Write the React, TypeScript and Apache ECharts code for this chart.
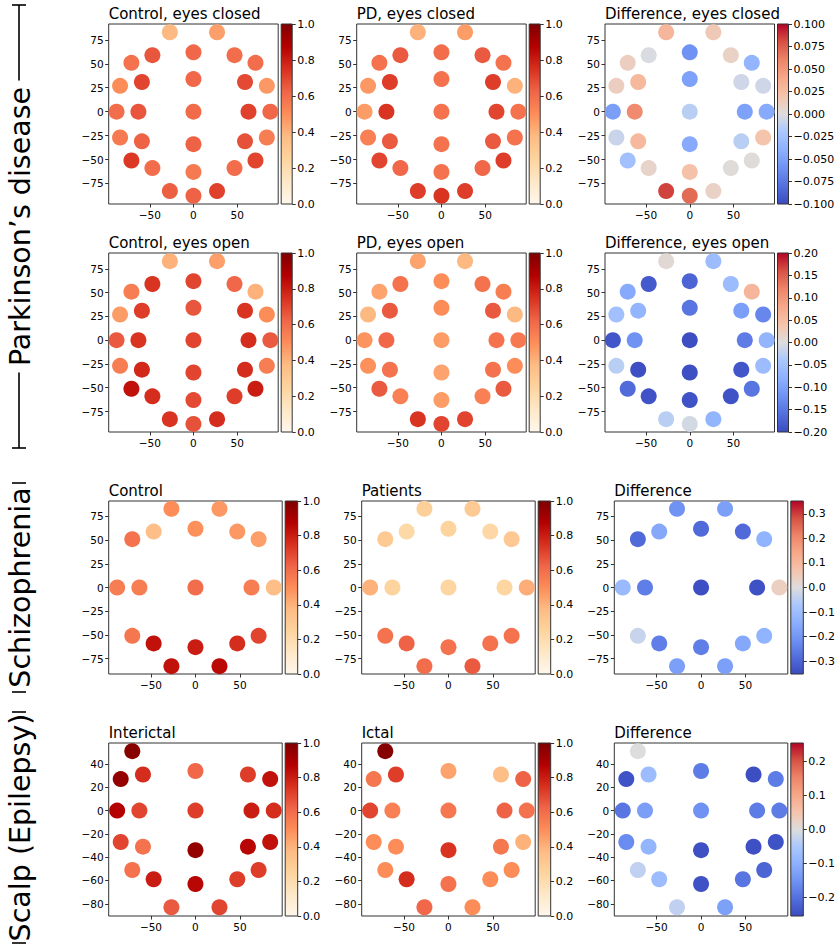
import React, { useEffect, useRef } from 'react';
import * as echarts from 'echarts';

const FONT = '"DejaVu Sans", "Liberation Sans", sans-serif';

// ---------- electrode coordinates ----------
// 30-channel set (Parkinson's disease)
const pdElectrodeX = [-27, 27, -71, -47, 0, 47, 71, -84, -59, 0, 59, 84, -88, -63, 0, 63, 88, -84, -59, 0, 59, 84, -71, -47, 0, 47, 71, -27, 0, 27];
const pdElectrodeY = [83, 83, 51, 59, 62, 59, 51, 27, 31, 34, 31, 27, 0, 0, 0, 0, 0, -27, -31, -34, -31, -27, -51, -59, -63, -59, -51, -83, -88, -83];
// 19-channel set (Schizophrenia)
const szElectrodeX = [-27, 27, -71, -47, 0, 47, 71, -88, -63, 0, 63, 88, -71, -47, 0, 47, 71, -27, 27];
const szElectrodeY = [83, 83, 51, 59, 62, 59, 51, 0, 0, 0, 0, 0, -51, -59, -63, -59, -51, -83, -83];
// 23-channel set (Scalp epilepsy)
const epElectrodeX = [-71, -84, -59, 0, 59, 84, -88, -63, 0, 63, 88, -84, -59, 0, 59, 84, -71, -47, 0, 47, 71, -27, 27];
const epElectrodeY = [51, 27, 31, 34, 31, 27, 0, 0, 0, 0, 0, -27, -31, -34, -31, -27, -51, -59, -63, -59, -51, -83, -83];

// ---------- values ----------
const pdControlClosed = [0.38, 0.45, 0.58, 0.66, 0.62, 0.6, 0.6, 0.5, 0.7, 0.62, 0.69, 0.47, 0.6, 0.66, 0.61, 0.71, 0.62, 0.56, 0.63, 0.63, 0.67, 0.55, 0.73, 0.6, 0.56, 0.6, 0.7, 0.64, 0.63, 0.71];
const pdPatientClosed = [0.4, 0.46, 0.58, 0.65, 0.6, 0.65, 0.58, 0.47, 0.72, 0.58, 0.72, 0.4, 0.46, 0.74, 0.58, 0.7, 0.58, 0.54, 0.65, 0.58, 0.65, 0.58, 0.7, 0.62, 0.58, 0.62, 0.72, 0.72, 0.74, 0.72];
const pdDiffClosed = [0.03, 0.016, 0.012, -0.002, -0.06, 0.01, -0.036, 0.012, 0.028, -0.05, -0.006, -0.006, -0.052, 0.056, -0.014, -0.05, -0.044, -0.008, 0.028, -0.044, -0.014, 0.02, -0.026, 0.008, 0.022, 0.002, 0.002, 0.084, 0.07, 0.01];
const pdControlOpen = [0.4, 0.45, 0.55, 0.74, 0.7, 0.62, 0.4, 0.46, 0.72, 0.66, 0.74, 0.5, 0.65, 0.74, 0.7, 0.76, 0.65, 0.55, 0.77, 0.7, 0.76, 0.55, 0.83, 0.76, 0.69, 0.72, 0.8, 0.74, 0.67, 0.76];
const pdPatientOpen = [0.44, 0.38, 0.44, 0.58, 0.5, 0.58, 0.55, 0.38, 0.65, 0.5, 0.65, 0.38, 0.48, 0.62, 0.46, 0.58, 0.56, 0.49, 0.58, 0.44, 0.58, 0.5, 0.65, 0.54, 0.46, 0.54, 0.65, 0.74, 0.7, 0.7];
const pdDiffOpen = [0.008, -0.06, -0.088, -0.184, -0.172, -0.06, 0.06, -0.052, -0.072, -0.152, -0.104, -0.132, -0.188, -0.12, -0.198, -0.144, -0.072, -0.028, -0.196, -0.196, -0.188, -0.06, -0.164, -0.192, -0.192, -0.192, -0.152, -0.028, -0.008, -0.072];
const szControl = [0.5, 0.47, 0.58, 0.36, 0.49, 0.47, 0.45, 0.55, 0.55, 0.6, 0.55, 0.36, 0.57, 0.83, 0.8, 0.76, 0.7, 0.83, 0.85];
const szPatients = [0.27, 0.3, 0.3, 0.22, 0.25, 0.23, 0.31, 0.4, 0.25, 0.24, 0.24, 0.41, 0.58, 0.63, 0.58, 0.58, 0.58, 0.6, 0.65];
const szDiff = [-0.21, -0.18, -0.29, -0.16, -0.29, -0.29, -0.13, -0.11, -0.25, -0.345, -0.34, 0.04, -0.03, -0.25, -0.25, -0.16, -0.13, -0.18, -0.18];
const epInterictal = [0.98, 0.95, 0.76, 0.62, 0.72, 0.83, 0.87, 0.7, 0.72, 0.8, 0.76, 0.7, 0.58, 0.95, 0.86, 0.83, 0.58, 0.8, 0.86, 0.72, 0.72, 0.65, 0.7];
const epIctal = [0.98, 0.57, 0.72, 0.44, 0.36, 0.63, 0.7, 0.54, 0.57, 0.63, 0.58, 0.5, 0.5, 0.74, 0.57, 0.4, 0.5, 0.76, 0.58, 0.5, 0.5, 0.62, 0.5];
const epDiff = [0, -0.243, -0.076, -0.183, -0.25, -0.183, -0.193, -0.132, -0.152, -0.183, -0.183, -0.162, -0.091, -0.248, -0.248, -0.243, -0.03, -0.076, -0.243, -0.193, -0.218, -0.03, -0.127];

// ---------- tick labels ----------
const xTicks = [-50, 0, 50];
const headYTicks = [-75, -50, -25, 0, 25, 50, 75];
const scalpYTicks = [-80, -60, -40, -20, 0, 20, 40];
const unitTicks = [0, 0.2, 0.4, 0.6, 0.8, 1.0];
const pdClosedDiffTicks = [-0.1, -0.075, -0.05, -0.025, 0, 0.025, 0.05, 0.075, 0.1];
const pdOpenDiffTicks = [-0.2, -0.15, -0.1, -0.05, 0, 0.05, 0.1, 0.15, 0.2];
const szDiffTicks = [-0.3, -0.2, -0.1, 0, 0.1, 0.2, 0.3];
const epDiffTicks = [-0.2, -0.1, 0, 0.1, 0.2];

// ---------- colormaps ----------
const ORRD = ['#fff7ec', '#fee8c8', '#fdd49e', '#fdbb84', '#fc8d59', '#ef6548', '#d7301f', '#b30000', '#7f0000'];
const COOLWARM = ['#3b4cc0', '#536edd', '#6f92f3', '#8db0fe', '#aac7fd', '#dddddd', '#f5c4ac', '#f7a889', '#ee8468', '#d65244', '#b40426'];

// ---------- layout ----------
const ROWS = [
  { top: 24, height: 180, xMin: -97, xMax: 97, yMin: -96.5, yMax: 91.6, yTicks: headYTicks, lefts: [108.7, 356.7, 605], width: 169.5, cbW: 11 },
  { top: 253, height: 179, xMin: -97, xMax: 97, yMin: -96.5, yMax: 91.6, yTicks: headYTicks, lefts: [108.7, 356.7, 605], width: 169.5, cbW: 11 },
  { top: 501, height: 173, xMin: -97.5, xMax: 97.5, yMin: -91.3, yMax: 91.3, yTicks: headYTicks, lefts: [108.7, 361.7, 614.3], width: 173.5, cbW: 12.5 },
  { top: 743, height: 173, xMin: -97.5, xMax: 97.5, yMin: -90.5, yMax: 58, yTicks: scalpYTicks, lefts: [108.7, 361.7, 614.3], width: 173.5, cbW: 12.5 },
];

const PANELS = [
  { title: 'Control, eyes closed', xs: pdElectrodeX, ys: pdElectrodeY, vals: pdControlClosed, cmap: ORRD, min: 0, max: 1, ticks: unitTicks, dec: 1 },
  { title: 'PD, eyes closed', xs: pdElectrodeX, ys: pdElectrodeY, vals: pdPatientClosed, cmap: ORRD, min: 0, max: 1, ticks: unitTicks, dec: 1 },
  { title: 'Difference, eyes closed', xs: pdElectrodeX, ys: pdElectrodeY, vals: pdDiffClosed, cmap: COOLWARM, min: -0.1, max: 0.1, ticks: pdClosedDiffTicks, dec: 3 },
  { title: 'Control, eyes open', xs: pdElectrodeX, ys: pdElectrodeY, vals: pdControlOpen, cmap: ORRD, min: 0, max: 1, ticks: unitTicks, dec: 1 },
  { title: 'PD, eyes open', xs: pdElectrodeX, ys: pdElectrodeY, vals: pdPatientOpen, cmap: ORRD, min: 0, max: 1, ticks: unitTicks, dec: 1 },
  { title: 'Difference, eyes open', xs: pdElectrodeX, ys: pdElectrodeY, vals: pdDiffOpen, cmap: COOLWARM, min: -0.2, max: 0.2, ticks: pdOpenDiffTicks, dec: 2 },
  { title: 'Control', xs: szElectrodeX, ys: szElectrodeY, vals: szControl, cmap: ORRD, min: 0, max: 1, ticks: unitTicks, dec: 1 },
  { title: 'Patients', xs: szElectrodeX, ys: szElectrodeY, vals: szPatients, cmap: ORRD, min: 0, max: 1, ticks: unitTicks, dec: 1 },
  { title: 'Difference', xs: szElectrodeX, ys: szElectrodeY, vals: szDiff, cmap: COOLWARM, min: -0.352, max: 0.352, ticks: szDiffTicks, dec: 1 },
  { title: 'Interictal', xs: epElectrodeX, ys: epElectrodeY, vals: epInterictal, cmap: ORRD, min: 0, max: 1, ticks: unitTicks, dec: 1 },
  { title: 'Ictal', xs: epElectrodeX, ys: epElectrodeY, vals: epIctal, cmap: ORRD, min: 0, max: 1, ticks: unitTicks, dec: 1 },
  { title: 'Difference', xs: epElectrodeX, ys: epElectrodeY, vals: epDiff, cmap: COOLWARM, min: -0.2536, max: 0.2536, ticks: epDiffTicks, dec: 1 },
];

const GROUPS = [
  { label: 'Parkinson\u2019s disease', y1: 5, y2: 448, textLen: 282 },
  { label: 'Schizophrenia', y1: 483, y2: 692, textLen: 202 },
  { label: 'Scalp (Epilepsy)', y1: 712, y2: 943, textLen: 240 },
];

const minusFmt = (v: number) => (v < 0 ? '\u2212' + Math.abs(v) : String(v));
const decFmt = (d: number) => (v: number) => {
  const s = Math.abs(v).toFixed(d);
  return (v < -1e-9 ? '\u2212' : '') + s;
};

function buildOption() {
  const grid: any[] = [];
  const xAxis: any[] = [];
  const yAxis: any[] = [];
  const series: any[] = [];
  const visualMap: any[] = [];
  const graphic: any[] = [];
  const frame = '#333';
  const tickLine = { color: frame, width: 1 };

  PANELS.forEach((p, i) => {
    const row = ROWS[Math.floor(i / 3)];
    const left = row.lefts[i % 3];
    // main plot grid
    grid.push({ left, top: row.top, width: row.width, height: row.height, show: true, borderColor: frame, borderWidth: 1, backgroundColor: '#fff', containLabel: false, outerBoundsMode: 'none' });
    xAxis.push({
      type: 'value', gridIndex: i, min: row.xMin, max: row.xMax,
      axisLine: { show: false, onZero: false },
      splitLine: { show: false },
      axisTick: { show: true, length: 3.5, customValues: xTicks, lineStyle: tickLine },
      axisLabel: { customValues: xTicks, formatter: minusFmt, fontSize: 10.5, color: '#000', fontFamily: FONT, margin: 5 },
    });
    yAxis.push({
      type: 'value', gridIndex: i, min: row.yMin, max: row.yMax,
      axisLine: { show: false, onZero: false },
      splitLine: { show: false },
      axisTick: { show: true, length: 3.5, customValues: row.yTicks, lineStyle: tickLine },
      axisLabel: { customValues: row.yTicks, formatter: minusFmt, fontSize: 10.5, color: '#000', fontFamily: FONT, margin: 5 },
    });
    series.push({
      type: 'scatter', xAxisIndex: i, yAxisIndex: i, symbolSize: 16, silent: true,
      data: p.xs.map((x, j) => [x, p.ys[j], p.vals[j]]),
      itemStyle: { opacity: 1 },
    });
    visualMap.push({ type: 'continuous', show: false, seriesIndex: i, dimension: 2, min: p.min, max: p.max, inRange: { color: p.cmap } });
    // title
    graphic.push({
      type: 'text', x: left, y: row.top - 2.5,
      style: { text: p.title, font: `15px ${FONT}`, fill: '#000', textAlign: 'left', textVerticalAlign: 'bottom' },
    });
  });

  // colorbars
  PANELS.forEach((p, i) => {
    const row = ROWS[Math.floor(i / 3)];
    const left = row.lefts[i % 3] + row.width + 3;
    const gi = PANELS.length + i;
    const n = p.cmap.length;
    grid.push({
      left, top: row.top, width: row.cbW, height: row.height, show: true, borderColor: frame, borderWidth: 1,
      backgroundColor: { type: 'linear', x: 0, y: 1, x2: 0, y2: 0, colorStops: p.cmap.map((c, k) => ({ offset: k / (n - 1), color: c })) },
      containLabel: false, outerBoundsMode: 'none',
    });
    xAxis.push({ type: 'value', gridIndex: gi, min: 0, max: 1, show: false });
    yAxis.push({
      type: 'value', gridIndex: gi, position: 'right', min: p.min, max: p.max,
      axisLine: { show: false, onZero: false },
      splitLine: { show: false },
      axisTick: { show: true, length: 3.5, customValues: p.ticks, lineStyle: tickLine },
      axisLabel: { customValues: p.ticks, formatter: decFmt(p.dec), fontSize: 11, color: '#000', fontFamily: FONT, margin: 5 },
    });
  });

  // group brackets
  const bx = 19;
  GROUPS.forEach((g) => {
    const cy = (g.y1 + g.y2) / 2;
    const tTop = cy - g.textLen / 2 - 5;
    const tBot = cy + g.textLen / 2 + 5;
    const lineStyle = { stroke: '#000', lineWidth: 1.6 };
    if (tTop > g.y1) graphic.push({ type: 'line', shape: { x1: bx, y1: g.y1, x2: bx, y2: tTop }, style: lineStyle });
    if (tBot < g.y2) graphic.push({ type: 'line', shape: { x1: bx, y1: tBot, x2: bx, y2: g.y2 }, style: lineStyle });
    graphic.push({ type: 'line', shape: { x1: bx - 7, y1: g.y1, x2: bx + 7, y2: g.y1 }, style: lineStyle });
    graphic.push({ type: 'line', shape: { x1: bx - 7, y1: g.y2, x2: bx + 7, y2: g.y2 }, style: lineStyle });
    graphic.push({
      type: 'text', x: bx + 1, y: cy, rotation: Math.PI / 2,
      style: { text: g.label, font: `28.5px ${FONT}`, fill: '#000', textAlign: 'center', textVerticalAlign: 'middle' },
    });
  });

  return {
    animation: false,
    backgroundColor: '#fff',
    textStyle: { fontFamily: FONT },
    grid, xAxis, yAxis, series, visualMap, graphic,
  };
}

export default function App() {
  const ref = useRef<HTMLDivElement>(null);
  useEffect(() => {
    if (!ref.current) return;
    const chart = echarts.init(ref.current, undefined, { renderer: 'svg' });
    chart.setOption(buildOption() as any);
    return () => chart.dispose();
  }, []);
  return <div ref={ref} style={{ position: 'absolute', left: 0, top: 0, width: 840, height: 950, background: '#fff' }} />;
}
